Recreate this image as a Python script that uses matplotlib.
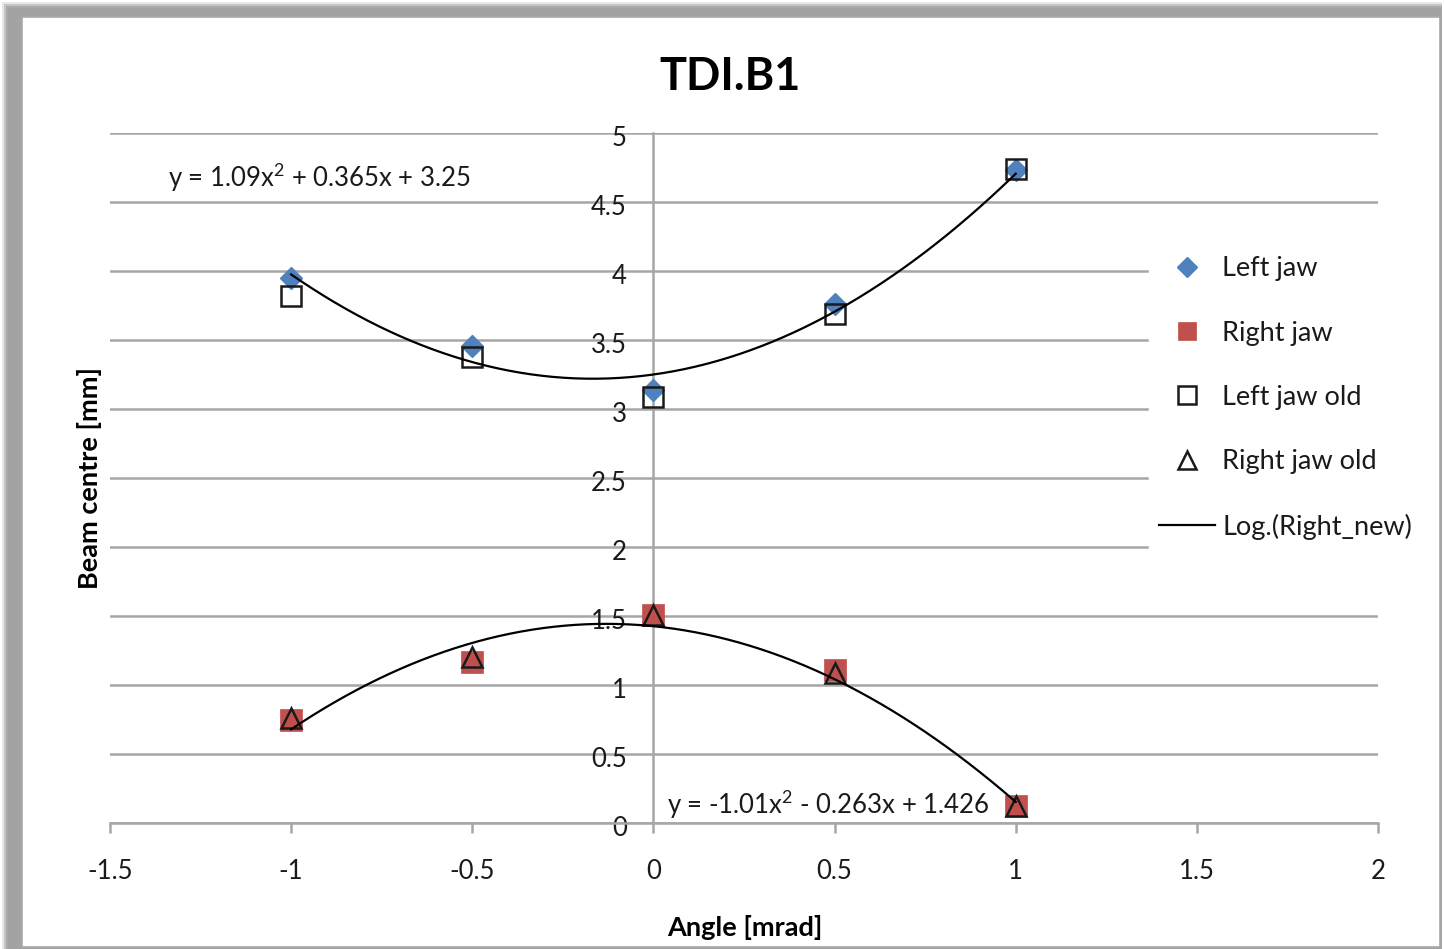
import numpy as np
import matplotlib
matplotlib.use("Agg")
import matplotlib.pyplot as plt
import matplotlib.transforms as mtransforms
from matplotlib.patches import Rectangle

plt.rcParams['font.family'] = ['Lato', 'DejaVu Sans']
plt.rcParams['axes.unicode_minus'] = False
plt.rcParams['mathtext.fontset'] = 'custom'
plt.rcParams['mathtext.rm'] = 'Lato'
plt.rcParams['mathtext.it'] = 'Lato'
plt.rcParams['mathtext.default'] = 'regular'

# ---- data ----
angles = [-1.0, -0.5, 0.0, 0.5, 1.0]
left_jaw = [3.95, 3.46, 3.14, 3.76, 4.73]
right_jaw = [0.75, 1.17, 1.51, 1.11, 0.12]
left_jaw_old = [3.82, 3.38, 3.09, 3.69, 4.74]
right_jaw_old = [0.76, 1.20, 1.51, 1.09, 0.12]
left_fit_coeffs = [1.09, 0.365, 3.25]
right_fit_coeffs = [-1.01, -0.263, 1.426]
left_eq_label = "y = 1.09x$^{2}$ + 0.365x + 3.25"
right_eq_label = "y = -1.01x$^{2}$ - 0.263x + 1.426"
x_ticks = [-1.5, -1, -0.5, 0, 0.5, 1, 1.5, 2]
x_tick_labels = ["-1.5", "-1", "-0.5", "0", "0.5", "1", "1.5", "2"]
y_ticks = [0, 0.5, 1, 1.5, 2, 2.5, 3, 3.5, 4, 4.5, 5]
y_tick_labels = ["0", "0.5", "1", "1.5", "2", "2.5", "3", "3.5", "4", "4.5", "5"]

W, H = 1444, 949
fig = plt.figure(figsize=(W / 100, H / 100), dpi=100)
fig.patch.set_facecolor('white')

# frame / shadow
def px_rect(x0, y0, x1, y1, **kw):
    fig.patches.append(Rectangle((x0 / W, 1 - y1 / H), (x1 - x0) / W, (y1 - y0) / H,
                                 transform=fig.transFigure, **kw))

for i, a in enumerate([0.25, 0.5, 0.8, 1.0]):
    px_rect(2 + 2 * i, 2 + 2 * i, 1442, 949, facecolor='#a3a3a3', edgecolor='none', alpha=a, zorder=-10)
px_rect(22, 17, 1440, 947, facecolor='white', edgecolor='#a8a8a8', linewidth=1.2, zorder=-9)

ax = fig.add_axes([110 / W, 1 - 823 / H, (1378 - 110) / W, (823 - 133) / H])
ax.set_facecolor('none')
ax.set_xlim(-1.5, 2)
ax.set_ylim(0, 5)

grid_c = '#a6a6a6'
ax.set_yticks(y_ticks)
ax.set_yticklabels(y_tick_labels)
ax.set_xticks(x_ticks)
ax.set_xticklabels(x_tick_labels)
ax.yaxis.grid(True, color=grid_c, linewidth=1.8)
ax.set_axisbelow(True)

for s in ['top', 'right']:
    ax.spines[s].set_visible(False)
ax.spines['left'].set_position(('data', 0))
ax.spines['left'].set_color(grid_c)
ax.spines['left'].set_linewidth(1.8)
ax.spines['bottom'].set_color(grid_c)
ax.spines['bottom'].set_linewidth(1.8)
ax.tick_params(axis='x', direction='out', length=7, width=1.8, color=grid_c,
               labelsize=18.5, pad=19, labelcolor='#1a1a1a')
ax.tick_params(axis='y', direction='out', length=0, width=1.8, color=grid_c,
               labelsize=18.5, pad=19, labelcolor='#1a1a1a')
shift_down = mtransforms.ScaledTranslation(0, -3 / 100, fig.dpi_scale_trans)
for lbl in ax.get_yticklabels():
    lbl.set_transform(lbl.get_transform() + shift_down)

# data markers
blue = '#4F81BD'
red = '#C0504D'
ax.plot(angles, left_jaw, linestyle='none', marker='D', ms=11.5, color=blue,
        markeredgecolor=blue, label='Left jaw', zorder=3)
ax.plot(angles, right_jaw, linestyle='none', marker='s', ms=16, color=red,
        markeredgecolor=red, mew=0.5, label='Right jaw', zorder=3)
ax.plot(angles, left_jaw_old, linestyle='none', marker='s', ms=14.5, mfc='none',
        markeredgecolor='#1a1a1a', mew=1.8, label='Left jaw old', zorder=4)
ax.plot(angles, right_jaw_old, linestyle='none', marker='^', ms=14.5, mfc='none',
        markeredgecolor='#1a1a1a', mew=1.8, label='Right jaw old', zorder=4)

# trendlines (polynomial fits shown on chart)
xs = np.linspace(angles[0], angles[-1], 200)
ax.plot(xs, np.polyval(left_fit_coeffs, xs), color='black', lw=1.6, zorder=5)
ax.plot(xs, np.polyval(right_fit_coeffs, xs), color='black', lw=1.6, zorder=5,
        label='Log.(Right_new)')

ax.text(168 / W, 1 - 178 / H, left_eq_label, transform=fig.transFigure,
        fontsize=18.5, ha='left', va='center', color='#1a1a1a')
ax.text(667 / W, 1 - 805 / H, right_eq_label, transform=fig.transFigure,
        fontsize=18.5, ha='left', va='center', color='#1a1a1a')

fig.text(730 / W, 1 - 77 / H, 'TDI.B1', fontsize=32.5, fontweight='bold',
         ha='center', va='center', color='black')
fig.text(90 / W, 1 - 478 / H, 'Beam centre [mm]', fontsize=19.5, fontweight='bold',
         rotation=90, ha='center', va='center', color='black')
fig.text(745 / W, 1 - 928 / H, 'Angle [mrad]', fontsize=19.5, fontweight='bold',
         ha='center', va='center', color='black')

handles, labels = ax.get_legend_handles_labels()
leg = fig.legend(handles, labels, loc='center left',
                 bbox_to_anchor=(1149 / W, 1 - 398 / H),
                 frameon=True, fontsize=19.5, labelspacing=1.45,
                 handlelength=2.05, handletextpad=0.27, borderpad=0.38,
                 borderaxespad=0, fancybox=False, markerscale=0.85)
leg.get_frame().set_facecolor('white')
leg.get_frame().set_edgecolor('white')
leg.get_frame().set_alpha(1)
for t in leg.get_texts():
    t.set_color('#1a1a1a')

fig.savefig('out.png', dpi=100)
